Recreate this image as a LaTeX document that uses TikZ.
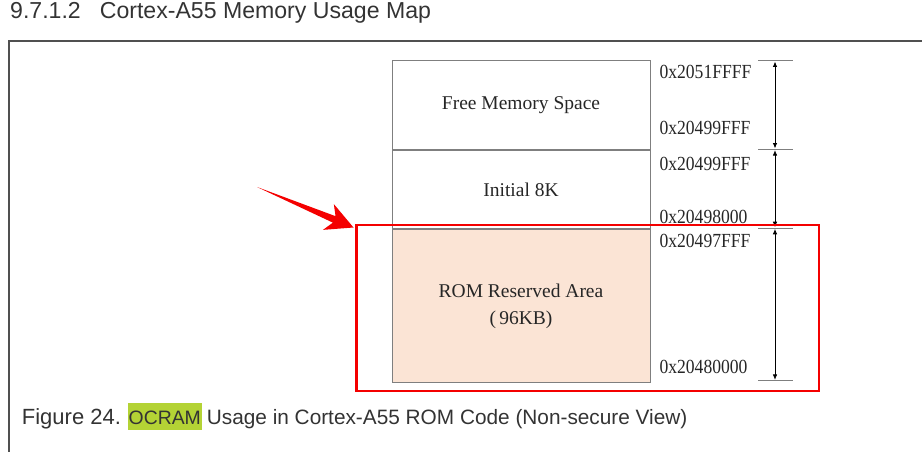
\documentclass[tikz,border=0pt]{standalone}
\usepackage{fontspec}
\setmainfont{Liberation Serif}
\setsansfont{Liberation Sans}
\newfontfamily\addrfont[FakeStretch=0.88]{Liberation Serif}
\usetikzlibrary{positioning, calc, arrows.meta}
\definecolor{frame-gray}{HTML}{505050}
\definecolor{box-gray}{HTML}{7F7F7F}
\definecolor{rom-fill}{HTML}{FBE4D5}
\definecolor{ocram-green}{HTML}{B4D335}
\definecolor{text-gray}{HTML}{333333}
\definecolor{mark-red}{HTML}{F40000}

\begin{document}
\begin{tikzpicture}[x=1pt, y=-1pt,
    memblock/.style={draw=box-gray, line width=0.9pt, minimum width=258pt,
      inner sep=0pt, align=center, text=black!85,
      font=\fontsize{19.5}{27}\selectfont},
    addr/.style={anchor=west, inner sep=0pt, text=black!85,
      font=\addrfont\fontsize{20}{22}\selectfont},
    addrtick/.style={draw=box-gray, line width=0.9pt},
    spanarrow/.style={{Latex[length=5.5pt,width=4.5pt]}-{Latex[length=5.5pt,width=4.5pt]},
      line width=0.8pt, shorten <=0.8pt, shorten >=0.8pt},
    heading/.style={font=\sffamily\fontsize{20.8}{24}\selectfont, text=text-gray,
      inner sep=0pt}]
  \useasboundingbox (0,0) rectangle (922,452);

  % heading and page frame
  \node[heading, font=\sffamily\fontsize{23.1}{26}\selectfont, anchor=base west]
    (title) at (10,18.5) {9.7.1.2\hspace{19pt}Cortex-A55 Memory Usage Map};
  \draw[frame-gray, line width=2.2pt] (8.7,452) -- (8.7,41.3) -- (922,41.3);

  % memory blocks
  \node[memblock, minimum height=88.6pt] (free) at (521,105) {Free Memory Space};
  \node[memblock, minimum height=78.7pt, below=0pt of free] (init) {Initial 8K};
  \node[memblock, minimum height=152.7pt, fill=rom-fill, below=0pt of init] (rom)
    {ROM Reserved Area\\(\,96KB)};

  % addresses
  \node[addr] (a1) at (659.3,71.7) {0x2051FFFF};
  \node[addr] (a2) at (659.3,128) {0x20499FFF};
  \node[addr] (a3) at (659.3,164) {0x20499FFF};
  \node[addr] (a4) at (659.3,216.7) {0x20498000};
  \node[addr] (a5) at (659.3,240.5) {0x20497FFF};
  \node[addr] (a6) at (659.3,367) {0x20480000};

  % ticks and ranges
  \foreach \y [count=\i] in {60.7,149.3,228,380.7} {
    \draw[addrtick] (758,\y) -- (792.5,\y);
    \coordinate (tk\i) at (775,\y);
  }
  \draw[spanarrow] (tk1) -- (tk2);
  \draw[spanarrow] (tk2) -- (tk3);
  \draw[spanarrow] (tk3) -- (tk4);

  % highlight box and pointer
  \node[draw=mark-red, line width=2.2pt, minimum width=462.5pt,
        minimum height=165.4pt, inner sep=0pt] (hl) at (587.75,308) {};
  \coordinate (tail) at (257,187);
  \coordinate (tip) at (353.5,227.5);
  \fill[mark-red] (tail)
    -- ($(tail)!0.8!(tip)!3.5pt!90:(tip)$)
    -- ($(tail)!0.74!(tip)!14pt!90:(tip)$)
    -- (tip)
    -- ($(tail)!0.74!(tip)!14pt!-90:(tip)$)
    -- ($(tail)!0.8!(tip)!3.5pt!-90:(tip)$) -- cycle;

  % caption
  \node[heading, font=\sffamily\fontsize{22}{24}\selectfont, anchor=base west]
    (fig) at (21.7,424.3) {Figure 24.};
  \node[heading, font=\sffamily\fontsize{19.4}{22}\selectfont, anchor=base east,
        fill=ocram-green, inner xsep=0.6pt, text height=21pt, text depth=5.7pt]
    (ocram) at (201.7,424.3) {OCRAM};
  \node[heading, base right=5pt of ocram] (captext)
    {Usage in Cortex-A55 ROM Code (Non-secure View)};
\end{tikzpicture}
\end{document}
